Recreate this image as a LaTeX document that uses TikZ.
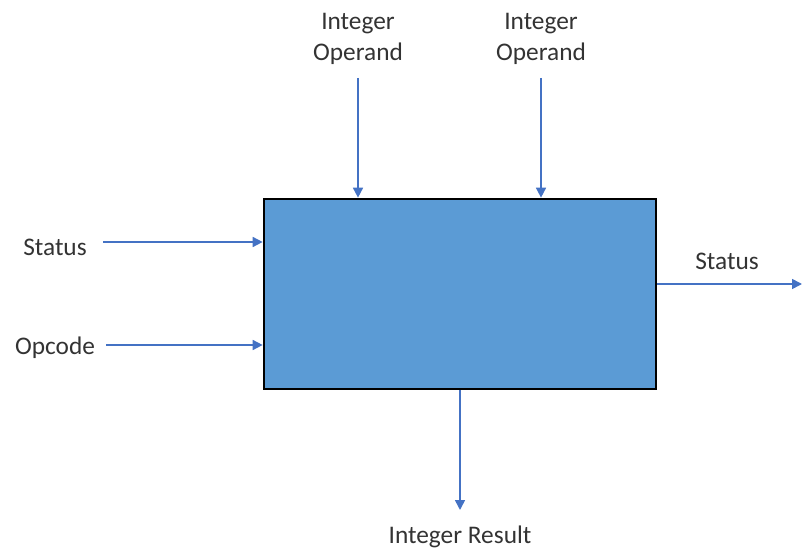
\documentclass[tikz,border=0pt]{standalone}
\usepackage{fontspec}
\setmainfont{Carlito}
\usetikzlibrary{arrows.meta, positioning}
\definecolor{boxblue}{HTML}{5B9BD5}
\definecolor{arrowblue}{HTML}{4472C4}

\begin{document}
\begin{tikzpicture}[x=0.75pt, y=-0.75pt, font=\fontsize{19}{23}\selectfont,
    sig/.style={-{Triangle[width=7.5pt,length=7.5pt]}, draw=arrowblue, line width=1.2pt},
    lbl/.style={align=center, text=black!80, inner sep=0pt}]
    \useasboundingbox (0,0) rectangle (802,548);

    \node (alu) at (460,294) [draw=black, line width=2pt, fill=boxblue, inner sep=0pt,
        minimum width=294pt, minimum height=142.5pt] {};

    % operands on top
    \node (opA) at (358,39) [lbl] {Integer\\Operand};
    \node (opB) at (541,39) [lbl] {Integer\\Operand};
    \coordinate (opAend) at (358,78);
    \coordinate (opBend) at (541,78);
    \draw [sig] (opAend) -- (opAend |- alu.north);
    \draw [sig] (opBend) -- (opBend |- alu.north);

    % inputs on the left
    \node (stIn) at (55,247) [lbl] {Status};
    \node (opc) at (55,348) [lbl] {Opcode};
    \coordinate (stInend) at (103,242);
    \coordinate (opcend) at (106,345);
    \draw [sig] (stInend) -- (stInend -| alu.west);
    \draw [sig] (opcend) -- (opcend -| alu.west);

    % outputs
    \coordinate (stOutend) at (802,284);
    \node (stOut) at (727,261) [lbl] {Status};
    \draw [sig] (stOutend -| alu.east) -- (stOutend);

    \coordinate (resend) at (460,510);
    \node (res) at (460,537) [lbl] {Integer Result};
    \draw [sig] (alu.south) -- (resend);
\end{tikzpicture}
\end{document}
